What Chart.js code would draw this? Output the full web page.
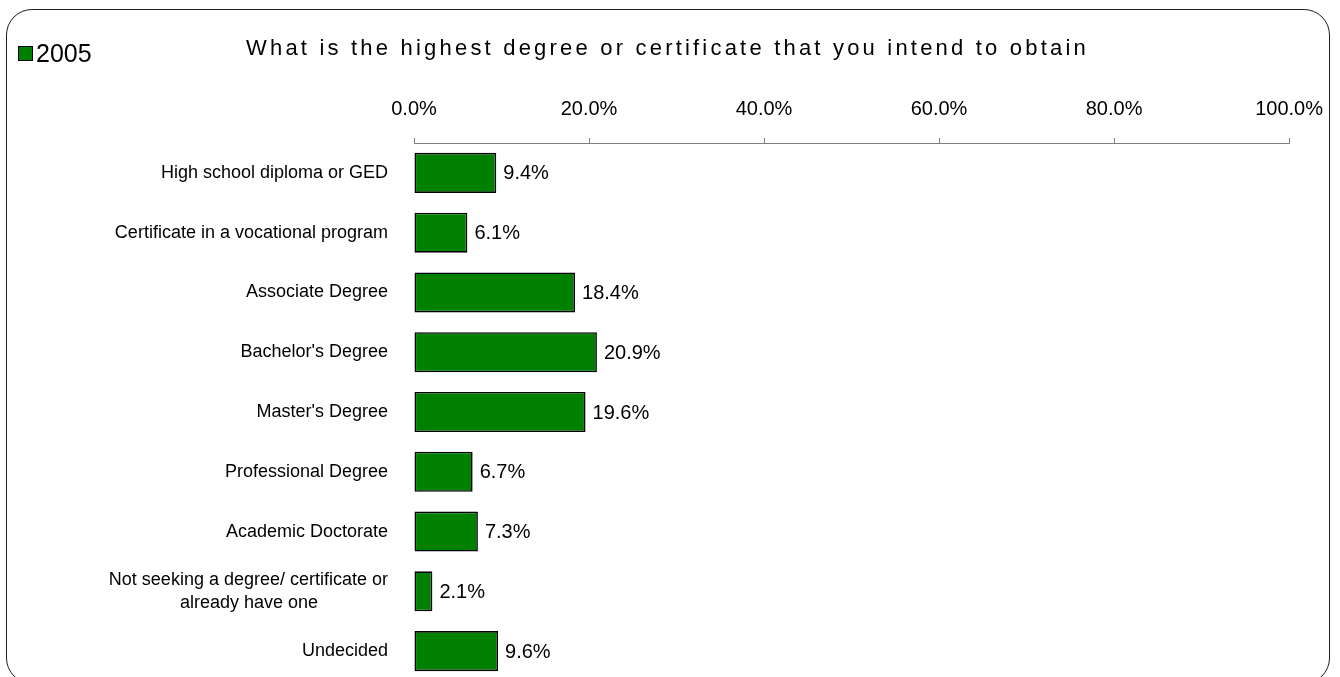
<!DOCTYPE html>
<html>
<head>
<title>Highest degree or certificate intended</title>
<script src="https://cdn.jsdelivr.net/npm/chart.js"></script>
<style>
  body { margin: 0; background: #fff; overflow: hidden; }
  #frame {
    position: absolute; left: 6px; top: 9px;
    width: 1324px; height: 675px; box-sizing: border-box;
    border: 1px solid #1e1e1e; border-radius: 26px;
  }
  #chart { position: absolute; left: 0; top: 0; }
</style>
</head>
<body>
<div id="frame"></div>
<canvas id="chart" width="1340" height="690"></canvas>
<script>
const chartTitle = 'What is the highest degree or certificate that you intend to obtain';
const seriesName = '2005';
const categories = [
    'High school diploma or GED',
    'Certificate in a vocational program',
    'Associate Degree',
    "Bachelor's Degree",
    "Master's Degree",
    'Professional Degree',
    'Academic Doctorate',
    ['Not seeking a degree/ certificate or', 'already have one'],
    'Undecided'
];
const values = [9.4, 6.1, 18.4, 20.9, 19.6, 6.7, 7.3, 2.1, 9.6];
const xTicks = [0, 20, 40, 60, 80, 100];

const FONT = '"Liberation Sans", Arial, sans-serif';
const GREEN = '#008000';

// pad the shorter line of a two-line label so both lines come out centred
function centerLines(lines) {
    const m = document.createElement('canvas').getContext('2d');
    m.font = '18px ' + FONT;
    const widths = lines.map(l => m.measureText(l).width);
    const widest = Math.max(...widths);
    const sp = m.measureText(' ').width;
    return lines.map((l, i) => l + ' '.repeat(Math.round((widest - widths[i]) / 2 / sp)));
}

// value labels beside the bars, plus the spaced-out title and the legend
const excelText = {
    id: 'excelText',
    afterDatasetsDraw(chart) {
        const ctx = chart.ctx;
        const meta = chart.getDatasetMeta(0);
        ctx.save();
        ctx.font = '20px ' + FONT;
        ctx.fillStyle = '#000';
        ctx.textAlign = 'left';
        ctx.textBaseline = 'middle';
        meta.data.forEach((bar, i) => {
            ctx.fillText(values[i].toFixed(1) + '%', bar.x + 7, bar.y + 1);
        });
        ctx.restore();
    },
    afterDraw(chart) {
        const ctx = chart.ctx;
        const ds = chart.data.datasets[0];
        ctx.save();
        ctx.fillStyle = '#000';
        ctx.textAlign = 'left';
        ctx.textBaseline = 'alphabetic';
        ctx.letterSpacing = '3.2px';
        ctx.font = '22px ' + FONT;
        ctx.fillText(chartTitle, 246, 55);

        // legend
        ctx.letterSpacing = '0px';
        ctx.fillStyle = ds.backgroundColor;
        ctx.fillRect(18, 46, 15, 15);
        ctx.strokeStyle = '#000';
        ctx.lineWidth = 1;
        ctx.strokeRect(18.5, 46.5, 14, 14);
        ctx.fillStyle = '#000';
        ctx.font = '25px ' + FONT;
        ctx.fillText(ds.label, 36, 62);
        ctx.restore();
    }
};

const ctx = document.getElementById('chart').getContext('2d');
const chart = new Chart(ctx, {
    type: 'bar',
    data: {
        labels: categories,
        datasets: [{
            label: seriesName,
            data: values,
            backgroundColor: GREEN,
            borderColor: '#000',
            borderWidth: 1.6,
            borderSkipped: false,
            barPercentage: 0.67,
            categoryPercentage: 1.0
        }]
    },
    options: {
        indexAxis: 'y',
        responsive: false,
        animation: false,
        layout: { padding: { top: 0, left: 0, right: 49, bottom: 9 } },
        plugins: {
            legend: { display: false },
            title: { display: false },
            tooltip: { enabled: false }
        },
        scales: {
            x: {
                position: 'top',
                min: 0,
                max: 100,
                afterBuildTicks: s => { s.ticks = xTicks.map(v => ({ value: v })); },
                afterFit: s => { s.height = 143; },
                ticks: {
                    callback: v => v.toFixed(1) + '%',
                    color: '#000',
                    font: { family: FONT, size: 20 },
                    padding: 17,
                    maxRotation: 0,
                    autoSkip: false
                },
                grid: { drawOnChartArea: false, drawTicks: true, tickLength: 5, color: '#808080', lineWidth: 1 },
                border: { display: true, color: '#808080', width: 1 }
            },
            y: {
                afterFit: s => {
                    s.width = 414;
                    s.paddingTop = 0;
                    s.paddingBottom = 0;
                },
                grid: { display: false, drawTicks: false },
                border: { display: false },
                ticks: {
                    color: '#000',
                    font: { family: FONT, size: 18, lineHeight: 1.3 },
                    padding: 26,
                    autoSkip: false,
                    callback: (v, i) => Array.isArray(categories[i]) ? centerLines(categories[i]) : categories[i]
                }
            }
        }
    },
    plugins: [excelText]
});
</script>
</body>
</html>
